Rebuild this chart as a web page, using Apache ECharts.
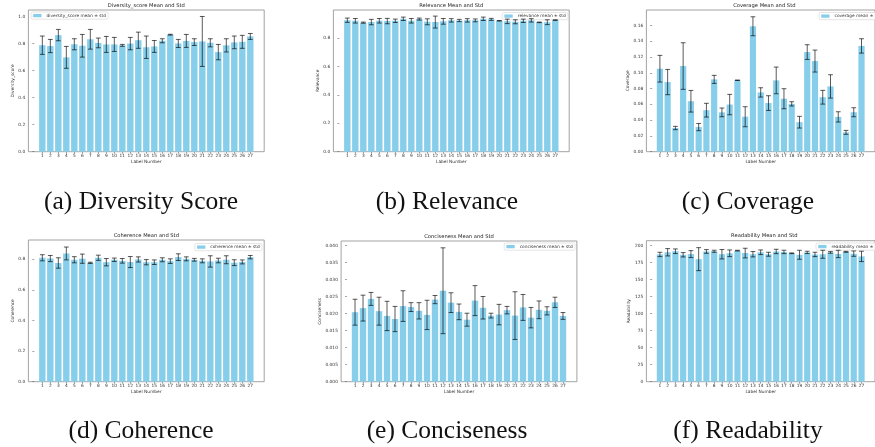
<!DOCTYPE html>
<html><head><meta charset="utf-8">
<script src="https://cdn.jsdelivr.net/npm/echarts@6/dist/echarts.min.js"></script>
<style>html,body{margin:0;padding:0;background:#fff}#c{width:875px;height:447px}</style>
</head><body><div id="c"></div>
<script>
const labelNumbers = [1,2,3,4,5,6,7,8,9,10,11,12,13,14,15,16,17,18,19,20,21,22,23,24,25,26,27];

const diversityMean = [0.789,0.783,0.864,0.699,0.796,0.785,0.833,0.806,0.795,0.795,0.788,0.801,0.826,0.774,0.780,0.822,0.867,0.802,0.821,0.812,0.817,0.807,0.738,0.788,0.810,0.814,0.854];
const diversityStd  = [0.068,0.049,0.042,0.081,0.041,0.084,0.073,0.036,0.059,0.052,0.007,0.046,0.060,0.083,0.044,0.015,0.003,0.030,0.048,0.025,0.185,0.030,0.057,0.049,0.047,0.048,0.022];

const relevanceMean = [0.926,0.922,0.909,0.913,0.922,0.920,0.922,0.936,0.922,0.934,0.915,0.913,0.918,0.925,0.924,0.925,0.925,0.936,0.932,0.922,0.918,0.915,0.922,0.925,0.911,0.912,0.927];
const relevanceStd  = [0.015,0.016,0.004,0.019,0.016,0.019,0.012,0.012,0.016,0.007,0.021,0.042,0.020,0.012,0.008,0.012,0.010,0.012,0.007,0.002,0.016,0.014,0.012,0.012,0.002,0.017,0.002];

const coverageMean = [0.1051,0.0882,0.0300,0.1085,0.0639,0.0312,0.0526,0.0916,0.0498,0.0597,0.0905,0.0443,0.1589,0.0751,0.0616,0.0903,0.0671,0.0606,0.0374,0.1262,0.1148,0.0690,0.0827,0.0441,0.0245,0.0500,0.1340];
const coverageStd  = [0.0169,0.0160,0.0021,0.0295,0.0137,0.0046,0.0087,0.0051,0.0055,0.0129,0.0003,0.0127,0.0120,0.0059,0.0093,0.0169,0.0127,0.0027,0.0074,0.0093,0.0139,0.0087,0.0148,0.0065,0.0025,0.0057,0.0091];

const coherenceMean = [0.809,0.804,0.775,0.837,0.796,0.803,0.776,0.809,0.780,0.796,0.789,0.781,0.798,0.780,0.780,0.796,0.787,0.813,0.802,0.796,0.789,0.785,0.791,0.796,0.777,0.782,0.813];
const coherenceStd  = [0.020,0.020,0.034,0.042,0.020,0.030,0.004,0.017,0.024,0.011,0.015,0.036,0.017,0.017,0.015,0.013,0.015,0.022,0.013,0.009,0.013,0.037,0.015,0.026,0.019,0.013,0.011];

const concisenessMean = [0.0204,0.0216,0.0243,0.0207,0.0193,0.0184,0.0222,0.0219,0.0208,0.0196,0.0241,0.0267,0.0232,0.0205,0.0182,0.0238,0.0217,0.0194,0.0197,0.0210,0.0194,0.0218,0.0188,0.0211,0.0208,0.0233,0.0193];
const concisenessStd  = [0.0038,0.0038,0.0019,0.0041,0.0043,0.0037,0.0045,0.0013,0.0024,0.0043,0.0012,0.0126,0.0029,0.0023,0.0019,0.0044,0.0033,0.0007,0.0030,0.0011,0.0070,0.0038,0.0030,0.0026,0.0012,0.0015,0.0010];

const readabilityMean = [187.0,190.2,191.7,186.5,187.5,180.1,191.4,191.7,187.3,188.7,192.6,189.0,187.3,190.2,187.3,191.4,190.7,188.7,186.5,190.0,187.0,187.3,190.0,187.7,190.9,188.2,184.1];
const readabilityStd  = [3.2,5.4,3.4,3.2,5.1,16.9,2.7,1.5,6.9,4.9,0.5,7.1,3.9,3.4,2.9,3.2,2.5,0.5,6.6,1.7,3.2,5.9,1.2,5.4,0.7,3.9,7.6];

const diversityTicks = [0,0.2,0.4,0.6,0.8,1.0];
const relevanceTicks = [0,0.2,0.4,0.6,0.8];
const coverageTicks = [0,0.02,0.04,0.06,0.08,0.10,0.12,0.14,0.16];
const coherenceTicks = [0,0.2,0.4,0.6,0.8];
const concisenessTicks = [0,0.005,0.010,0.015,0.020,0.025,0.030,0.035,0.040];
const readabilityTicks = [0,25,50,75,100,125,150,175,200];

const panels = [
  {mean: diversityMean, std: diversityStd, ticks: diversityTicks, dec: 1, yMax: 1.05,
   name: 'diversity_score mean ± std', yName: 'Diversity_score', title: 'Diversity_score Mean and Std', caption: '(a) Diversity Score',
   left: 28.4, top: 10, h: 141.7, yGap: 12, legend: {left: 31, top: 12}, capX: 141, capY: 202},
  {mean: relevanceMean, std: relevanceStd, ticks: relevanceTicks, dec: 1, yMax: 0.998,
   name: 'relevance mean ± std', yName: 'Relevance', title: 'Relevance Mean and Std', caption: '(b) Relevance',
   left: 333.4, top: 10, h: 141.7, yGap: 12, legend: {right: 307, top: 12.5}, capX: 447, capY: 202},
  {mean: coverageMean, std: coverageStd, ticks: coverageTicks, dec: 2, yMax: 0.1795,
   name: 'coverage mean ± std', yName: 'Coverage', title: 'Coverage Mean and Std', caption: '(c) Coverage',
   left: 646.4, top: 10, h: 141.7, yGap: 15.5, legend: {left: 819, top: 12.5}, capX: 748, capY: 202},
  {mean: coherenceMean, std: coherenceStd, ticks: coherenceTicks, dec: 1, yMax: 0.925,
   name: 'coherence mean ± std', yName: 'Coherence', title: 'Coherence Mean and Std', caption: '(d) Coherence',
   left: 28.4, top: 240, h: 141.7, yGap: 12, legend: {right: 613, top: 243.5}, capX: 141, capY: 431},
  {mean: concisenessMean, std: concisenessStd, ticks: concisenessTicks, dec: 3, yMax: 0.0413,
   name: 'conciseness mean ± std', yName: 'Conciseness', title: 'Conciseness Mean and Std', caption: '(e) Conciseness',
   left: 341.1, top: 241, h: 140.7, yGap: 17, legend: {right: 300, top: 243}, capX: 447, capY: 431},
  {mean: readabilityMean, std: readabilityStd, ticks: readabilityTicks, dec: 0, yMax: 207.2,
   name: 'readability mean ± std', yName: 'Readability', title: 'Readability Mean and Std', caption: '(f) Readability',
   left: 646.4, top: 240.7, h: 141, yGap: 12.5, legend: {left: 816, top: 243}, capX: 748, capY: 431}
];

const GRID_W = 235.8;
const SKY = '#87CEEB';
const TXT = '#333';
const FS = 4.35;

function barRender(params, api) {
  const x = api.value(0), v = api.value(1);
  const p0 = api.coord([x - 0.4, v]);
  const p1 = api.coord([x + 0.4, 0]);
  return {type: 'rect', shape: {x: p0[0], y: p0[1], width: p1[0] - p0[0], height: p1[1] - p0[1]},
          style: {fill: SKY}};
}
function errRender(params, api) {
  const x = api.value(0);
  const a = api.coord([x, api.value(1)]);
  const b = api.coord([x, api.value(2)]);
  const c = 2.4;
  const st = {stroke: 'rgba(0,0,0,0.72)', lineWidth: 0.9};
  return {type: 'group', children: [
    {type: 'line', shape: {x1: a[0], y1: a[1], x2: b[0], y2: b[1]}, style: st},
    {type: 'line', shape: {x1: a[0] - c, y1: a[1], x2: a[0] + c, y2: a[1]}, style: st},
    {type: 'line', shape: {x1: b[0] - c, y1: b[1], x2: b[0] + c, y2: b[1]}, style: st}
  ]};
}

const option = {
  animation: false,
  backgroundColor: '#fff',
  textStyle: {fontFamily: 'DejaVu Sans'},
  title: [
    ...panels.map(p => ({text: p.title, left: p.left + GRID_W / 2, top: p.top - 7.3, textAlign: 'center', padding: 0,
      textStyle: {fontSize: 5.2, fontWeight: 'normal', color: '#222', fontFamily: 'DejaVu Sans'}})),
    ...panels.map(p => ({text: p.caption, left: p.capX, top: p.capY - 12.5, textAlign: 'center', padding: 0,
      textStyle: {fontSize: 25.5, fontWeight: 'normal', color: '#111', fontFamily: 'Liberation Serif'}}))
  ],
  legend: panels.map(p => Object.assign({
    data: [{name: p.name, icon: 'rect'}], orient: 'horizontal', selectedMode: false,
    itemWidth: 8.3, itemHeight: 3.3, padding: [1.6, 2.2], itemGap: 2,
    textStyle: {fontSize: FS, color: TXT, fontFamily: 'DejaVu Sans'},
    borderColor: '#d4d4d4', borderWidth: 0.6, borderRadius: 1.5, backgroundColor: 'rgba(255,255,255,0.8)'
  }, p.legend)),
  grid: panels.map(p => ({left: p.left, top: p.top, width: GRID_W, height: p.h, show: true,
    borderColor: '#8c8c8c', borderWidth: 0.8, backgroundColor: 'transparent', containLabel: false})),
  xAxis: panels.map((p, i) => ({
    type: 'value', gridIndex: i, min: -0.74, max: 28.74,
    axisLine: {show: false, onZero: false},
    axisTick: {show: true, customValues: labelNumbers, length: 2, lineStyle: {color: '#666', width: 0.6}},
    axisLabel: {show: true, customValues: labelNumbers, fontSize: FS, margin: 2.5, color: TXT},
    splitLine: {show: false},
    name: 'Label Number', nameLocation: 'middle', nameGap: 8.4,
    nameTextStyle: {fontSize: FS, color: TXT}
  })),
  yAxis: panels.map((p, i) => ({
    type: 'value', gridIndex: i, min: 0, max: p.yMax,
    axisLine: {show: false},
    axisTick: {show: true, customValues: p.ticks, length: 2, lineStyle: {color: '#666', width: 0.6}},
    axisLabel: {show: true, customValues: p.ticks, fontSize: FS, margin: 3.2, color: TXT,
      formatter: v => Number(v).toFixed(p.dec)},
    splitLine: {show: false},
    name: p.yName, nameLocation: 'middle', nameGap: p.yGap,
    nameTextStyle: {fontSize: FS, color: TXT}
  })),
  series: panels.flatMap((p, i) => [
    {type: 'custom', name: p.name, xAxisIndex: i, yAxisIndex: i, itemStyle: {color: SKY},
     renderItem: barRender, encode: {x: 0, y: 1},
     data: labelNumbers.map((n, k) => [n, p.mean[k]])},
    {type: 'custom', name: p.name + ' err', xAxisIndex: i, yAxisIndex: i, silent: true, z: 5,
     renderItem: errRender, encode: {x: 0, y: [1, 2]},
     data: labelNumbers.map((n, k) => [n, p.mean[k] - p.std[k], p.mean[k] + p.std[k]])}
  ])
};

const chart = echarts.init(document.getElementById('c'), null, {renderer: 'canvas'});
chart.setOption(option);
</script>
</body></html>
